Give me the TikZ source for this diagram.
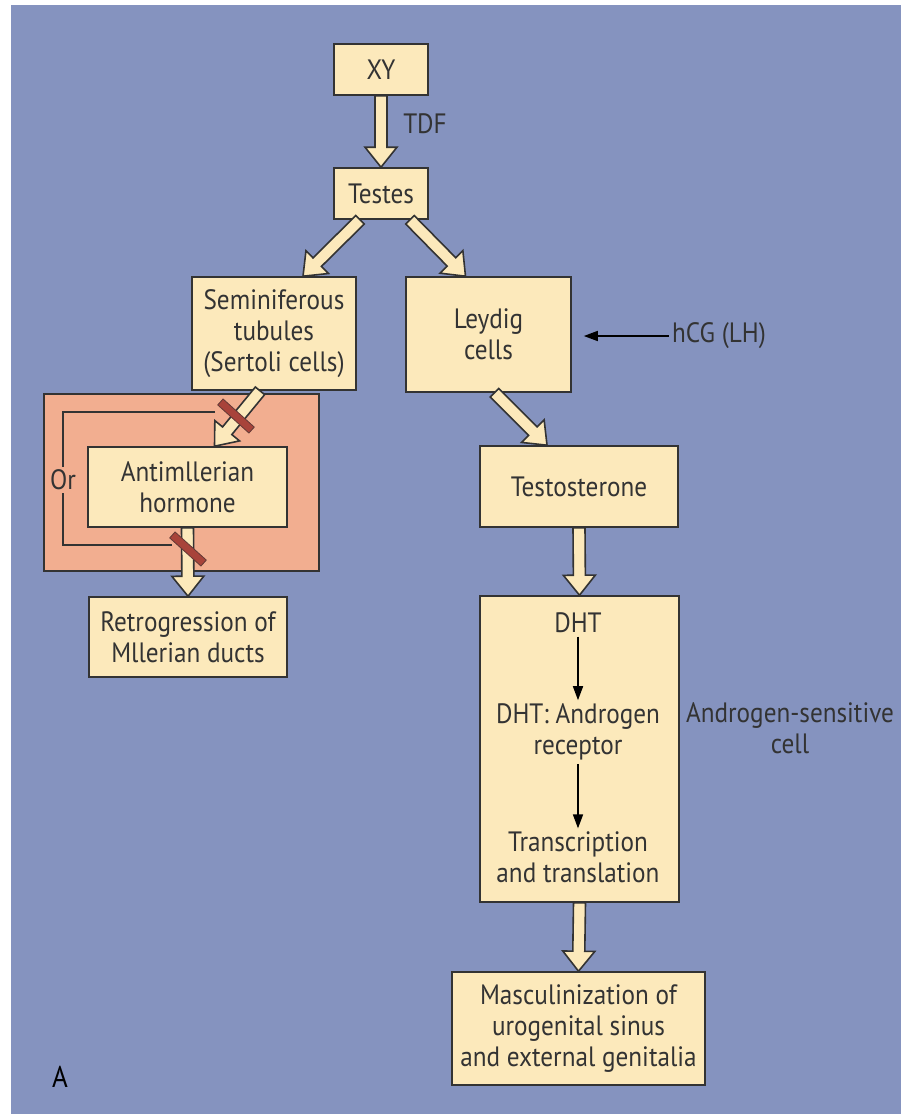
\documentclass[tikz,border=0pt]{standalone}
\usepackage{fontspec}
\setmainfont{PT Sans}[FakeStretch=0.9]
\usepackage{xcolor}
\usepackage{tikz}
\usetikzlibrary{positioning, calc, arrows.meta}
\definecolor{sxbg}{HTML}{8593BF}
\definecolor{sxcream}{HTML}{FCE9BB}
\definecolor{sxsalmon}{HTML}{F2AE90}
\definecolor{sxink}{HTML}{333333}
\definecolor{sxbar}{HTML}{A8433A}

\begin{document}
\begin{tikzpicture}[x=1pt, y=-1pt,
  every node/.style={font=\fontsize{28}{31}\selectfont, text=sxink},
  box/.style={draw=sxink, line width=1.6pt, fill=sxcream, align=center, inner sep=0pt},
  zone/.style={draw=sxink, line width=1.6pt, fill=sxsalmon, inner sep=0pt},
  lbl/.style={align=center},
  fat/.style={draw=sxink, fill=sxcream, line width=1.6pt,
    to path={let \p1=(\tikztostart), \p2=(\tikztotarget), \p3=($(\p2)!20pt!(\p1)$) in
      ($(\p1)!6pt!90:(\p2)$) -- ($(\p3)!6pt!90:(\p2)$) -- ($(\p3)!16pt!90:(\p2)$) -- (\p2)
      -- ($(\p3)!16pt!-90:(\p2)$) -- ($(\p3)!6pt!-90:(\p2)$) -- ($(\p1)!6pt!-90:(\p2)$) -- cycle}},
  thinarr/.style={-{Triangle[length=14pt,width=10pt]}, line width=1.6pt, black},
  bracket/.style={line width=1.4pt, sxink},
  blocker/.style={draw=sxink!60!sxbar, fill=sxbar, line width=0.8pt, minimum width=42pt, minimum height=8pt, inner sep=0pt, rotate=-42}
]
  \useasboundingbox (0,0) rectangle (901,1114);
  \fill[sxbg] (11,5) rectangle (901,1114);

  \node[zone, minimum width=275pt, minimum height=177pt] (amhzone) at (181.5,482.5) {};

  \node[box, minimum width=94pt, minimum height=51pt] (xy) at (381,69.5) {XY};
  \node[box, minimum width=94pt, minimum height=51pt] (testes) at (381,193.5) {Testes};
  \node[box, minimum width=164pt, minimum height=113pt] (semin) at (274,333.5) {Seminiferous\\tubules\\(Sertoli cells)};
  \node[box, minimum width=165pt, minimum height=115pt] (leydig) at (488.5,334.5) {Leydig\\cells};
  \node[box, minimum width=198pt, minimum height=81pt] (testo) at (579,486.5) {Testosterone};
  \node[box, minimum width=199pt, minimum height=80pt] (anti) at (187.5,487) {Antimllerian\\hormone};
  \node[box, minimum width=198pt, minimum height=80pt] (retro) at (188,637) {Retrogression of\\Mllerian ducts};
  \node[box, minimum width=199pt, minimum height=306pt] (cell) at (579.5,749) {};
  \node[box, minimum width=253pt, minimum height=113pt] (masc) at (578.5,1028.5) {Masculinization of\\urogenital sinus\\and external genitalia};

  \node (dht) at (578,623) {DHT};
  \node[lbl] (dhtar) at (578,732) {DHT: Androgen\\receptor};
  \node[lbl] (trans) at (578,857.5) {Transcription\\and translation};
  \node[lbl] (andsens) at (790,728) {Androgen-sensitive\\cell};
  \node (tdf) at (425,124) {TDF};
  \node (hcg) at (719,336) {hCG (LH)};
  \node[text=black, font=\fontsize{30}{31}\selectfont] (panel) at (60,1077) {A};

  \draw[fat] (xy.south) to (testes.north);
  \draw[fat] ([xshift=-21pt]testes.south) to ([xshift=29pt]semin.north);
  \draw[fat] ([xshift=29pt]testes.south) to ([xshift=-23pt]leydig.north);
  \draw[fat] ([xshift=6pt]leydig.south) to ([xshift=-32pt]testo.north);
  \draw[fat] ([xshift=-14pt]semin.south) to ([xshift=27pt]anti.north);
  \draw[fat] (anti.south) to (retro.north);
  \draw[fat] (testo.south) to (cell.north);
  \draw[fat] (cell.south) to (masc.north);

  \draw[thinarr] (dht) -- (dhtar);
  \draw[thinarr] (dhtar) -- (trans);
  \draw[thinarr, shorten >=12pt] (hcg.west) -- (hcg.west -| leydig.east);

  % either step can be blocked
  \coordinate (orTop) at (215,412);
  \coordinate (orBot) at (172,545);
  \coordinate (orMid) at (63,480);
  \draw[bracket] (orTop) -| (orMid) |- (orBot);
  \node[fill=sxsalmon, inner sep=3pt] (orlbl) at (orMid) {Or};

  \node[blocker] (blk1) at (236,416) {};
  \node[blocker] (blk2) at (188,549) {};
\end{tikzpicture}
\end{document}
